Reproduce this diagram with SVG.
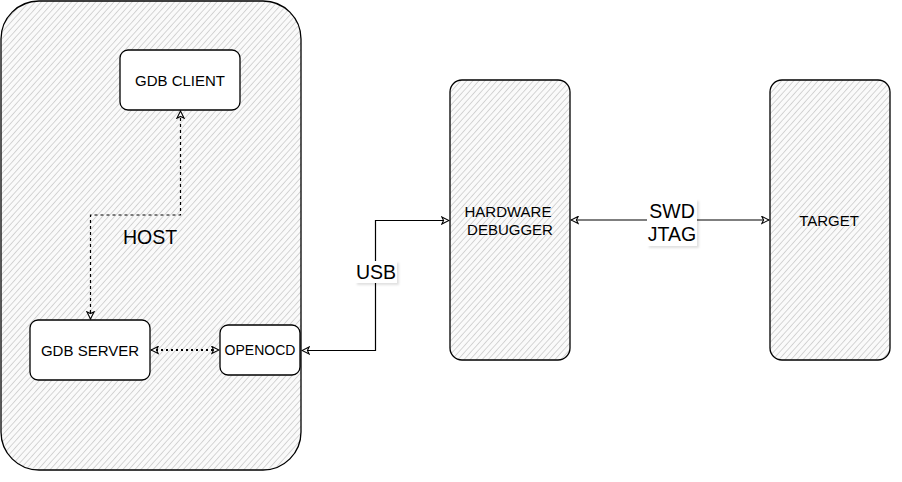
<svg xmlns="http://www.w3.org/2000/svg" width="902" height="482" viewBox="0 0 902 482">
<style>
.box{fill:url(#hatch);stroke:#000;stroke-width:1.3}
.wbox{fill:#fff;stroke:#000;stroke-width:1.3}
.t{font-family:"Liberation Sans",Arial,sans-serif;font-size:15px;fill:#000;text-anchor:middle}
.lbl{font-family:"Liberation Sans",Arial,sans-serif;font-size:19.5px;fill:#000;text-anchor:middle}
.c{fill:none;stroke:#000;stroke-width:1.2}
.dash{stroke-dasharray:3 3}
.dot{stroke-dasharray:2 3;stroke-width:2}
</style>
<defs>
<pattern id="hatch" patternUnits="userSpaceOnUse" width="4.5" height="4.5" patternTransform="rotate(42)">
<rect width="4.5" height="4.5" fill="#fafafa"/>
<line x1="0" y1="0" x2="0" y2="4.5" stroke="#bdbdbd" stroke-width="1.2"/>
</pattern>
<marker id="arr" viewBox="0 0 10 10" refX="9" refY="5" markerWidth="9" markerHeight="9" markerUnits="userSpaceOnUse" orient="auto-start-reverse">
<path d="M1,1 L9,5 L1,9 L3,5 Z" fill="#fff" stroke="#000" stroke-width="1.2"/>
</marker>
<filter id="sh" x="-10%" y="-10%" width="130%" height="130%">
<feDropShadow dx="2" dy="2" stdDeviation="1.2" flood-color="#000" flood-opacity="0.12"/>
</filter>
</defs>
<g id="host">
<rect class="box" x="1" y="1" width="300" height="469" rx="38" ry="38"/>
<text class="lbl" x="150" y="244">HOST</text>
</g>
<g id="gdb-client">
<rect class="wbox" x="120" y="50" width="120" height="60" rx="8" ry="8"/>
<text class="t" x="180" y="86">GDB CLIENT</text>
</g>
<g id="gdb-server">
<rect class="wbox" x="30" y="320" width="120" height="60" rx="8" ry="8"/>
<text class="t" x="90" y="356">GDB SERVER</text>
</g>
<g id="openocd">
<rect class="wbox" x="220" y="325" width="80" height="50" rx="8" ry="8"/>
<text class="t" x="260" y="355" style="font-size:14px">OPENOCD</text>
</g>
<g id="hardware-debugger">
<rect class="box" x="450" y="80" width="120" height="280" rx="12" ry="12"/>
<text class="t" x="508" y="217">HARDWARE</text>
<text class="t" x="510" y="235">DEBUGGER</text>
</g>
<g id="target">
<rect class="box" x="770" y="80" width="120" height="280" rx="12" ry="12"/>
<text class="t" x="829" y="226">TARGET</text>
</g>
<g id="connectors">
<path class="c dash" d="M90.5,319 L90.5,215 L180.5,215 L180.5,111" marker-start="url(#arr)" marker-end="url(#arr)"/>
<path class="c dot" d="M151,350 L219,350" marker-start="url(#arr)" marker-end="url(#arr)"/>
<path class="c" d="M302,350.5 L375.5,350.5 L375.5,220.5 L449,220.5" marker-start="url(#arr)" marker-end="url(#arr)"/>
<path class="c" d="M571,220 L769,220" marker-start="url(#arr)" marker-end="url(#arr)"/>
<g filter="url(#sh)">
<rect x="355" y="261" width="42" height="22" fill="#fff"/>
<rect x="647" y="199" width="50" height="47" fill="#fff"/>
</g>
<text class="lbl" x="376" y="279">USB</text>
<text class="lbl" x="672" y="218">SWD</text>
<text class="lbl" x="672" y="241">JTAG</text>
</g>
</svg>
